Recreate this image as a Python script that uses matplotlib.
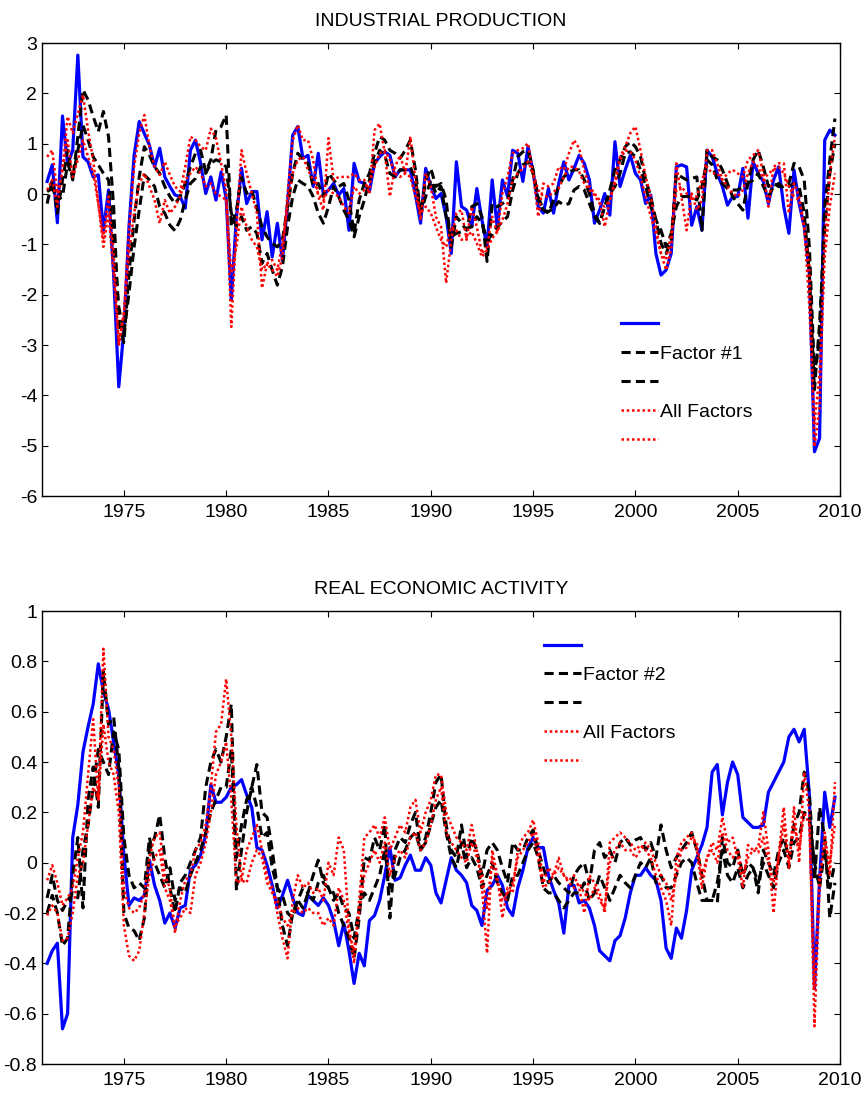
import numpy as np
import matplotlib
matplotlib.use('Agg')
import matplotlib.pyplot as plt
from matplotlib.ticker import FormatStrFormatter

plt.rcParams['font.family'] = ['Liberation Sans', 'DejaVu Sans']

# quarterly observations, 1971Q2 .. 2009Q4
dates = 1971.25 + 0.25 * np.arange(155)

# ---- INDUSTRIAL PRODUCTION ----
ip_actual = [0.25, 0.58, -0.57, 1.55, 0.58, 0.87, 2.76, 0.74, 0.64, 0.34, 0.38, -0.72, 0.08, -1.6, -3.83, -2.7, -0.65, 0.77, 1.44, 1.2,
             0.97, 0.54, 0.91, 0.34, 0.15, -0.02, -0.05, -0.28, 0.87, 1.07, 0.61, 0.01, 0.34, -0.12, 0.44, -0.09, -2.1, -0.45, 0.51, -0.19,
             0.05, 0.05, -0.91, -0.35, -1.25, -0.58, -1.31, -0.19, 1.17, 1.34, 0.71, 0.77, 0.15, 0.81, -0.02, 0.08, 0.21, -0.02, 0.11, -0.72,
             0.61, 0.25, 0.21, 0.05, 0.61, 0.74, 0.84, 0.77, 0.34, 0.48, 0.48, 0.48, -0.02, -0.58, 0.51, 0.15,
             -0.09, 0.01, -0.45, -1.18, 0.64, -0.25, -0.32, -0.65, 0.11, -0.52, -1.05, 0.28, -0.68, 0.28, -0.05, 0.87, 0.81, 0.25, 0.94, 0.44,
             -0.25, -0.38, 0.11, -0.38, 0.21, 0.64, 0.28, 0.51, 0.77, 0.61, 0.28, -0.58, -0.32, 0.01, -0.42, 1.04, 0.15, 0.48, 0.77, 0.41,
             0.28, -0.19, -0.02, -1.18, -1.61, -1.51, -1.18, 0.54, 0.58, 0.54, -0.62, -0.25, -0.72, 0.87, 0.74, 0.41, 0.15, -0.22, -0.05, -0.05,
             0.51, -0.48, 0.64, 0.41, 0.25, -0.19, 0.28, 0.54, -0.25, -0.78, 0.48, -0.19, -0.65, -1.58, -5.12, -4.85, 1.07, 1.27, 1.17]
ip_factor_a = [-0.19, 0.28, -0.38, 0.28, 0.87, 0.28, 1.14, 2.07, 1.87, 1.54, 1.24, 1.64, 1.14, -0.25, -2.57, -2.95, -1.58, -0.52, 0.34, 0.94,
               0.77, 0.54, 0.41, 0.15, -0.05, -0.19, -0.05, 0.21, 0.54, 0.81, 0.87, 0.44, 0.68, 1.27, 1.34, 1.57, -0.65, -0.32, 0.34, 0.01,
               0.08, -0.28, -0.65, -0.85, -0.98, -1.05, -0.91, -0.25, 0.41, 0.81, 0.68, 0.61, 0.15, 0.21, -0.05, 0.41, 0.28, 0.15, 0.21, -0.12,
               -0.78, -0.12, 0.21, 0.41, 0.81, 1.14, 1.07, 0.87, 0.81, 0.71, 0.87, 1.07, 0.48, -0.38, 0.28, 0.51, 0.15,
               0.21, -0.12, -1.05, -0.45, -0.58, -0.72, -0.25, -0.19, -0.45, -1.34, -0.19, -0.25, -0.19, -0.12, 0.28, 0.74, 0.84, 0.87, 0.48, -0.12,
               -0.32, -0.38, -0.12, 0.15, 0.34, 0.44, 0.48, 0.48, 0.28, 0.01, -0.38, -0.58, -0.25, 0.08, 0.48, 0.68, 0.94, 1.04, 0.94, 0.74,
               0.28, -0.05, -0.52, -0.98, -1.18, -0.91, 0.41, 0.34, 0.28, 0.31, 0.34, -0.72, 0.87, 0.74, 0.68, 0.48, 0.21, -0.05, -0.19, -0.32,
               0.21, 0.68, 0.87, 0.54, 0.15, 0.21, 0.15, 0.15, 0.21, 0.61, 0.54, 0.28, -1.05, -3.56, -2.90, -0.25, 0.68, 1.50]
ip_factor_b = [0.05, 0.11, -0.12, -0.05, 0.61, 0.31, 0.87, 1.37, 1.07, 0.74, 0.58, 0.41, 0.28, -0.91, -2.24, -2.77, -1.97, -1.05, -0.32, 0.38,
               0.28, 0.15, -0.25, -0.38, -0.62, -0.73, -0.52, -0.12, 0.21, 0.31, 0.54, 0.41, 0.61, 0.68, 0.64, 0.54, -0.38, -0.65, -0.45, -0.72,
               -0.65, -0.78, -1.38, -1.18, -1.51, -1.81, -1.44, -0.65, -0.05, 0.28, 0.21, 0.15, -0.05, -0.38, -0.58, -0.25, 0.15, -0.05, -0.32, -0.52,
               -0.85, -0.45, -0.12, 0.28, 0.61, 0.87, 0.77, 0.41, 0.34, 0.48, 0.48, 0.54, 0.28, -0.38, -0.05, 0.28, 0.01,
               0.15, -0.45, -0.85, -0.78, -0.75, -0.68, -0.65, -0.45, -0.58, -0.91, -0.81, -0.65, -0.55, -0.45, 0.08, 0.41, 0.58, 0.64, 0.41, -0.05,
               -0.32, -0.35, -0.28, -0.15, -0.22, -0.19, 0.08, 0.15, 0.08, -0.19, -0.45, -0.58, -0.25, 0.01, 0.15, 0.41, 0.81, 0.84, 0.74, 0.48,
               0.15, -0.25, -0.52, -0.72, -1.05, -0.78, -0.25, -0.05, -0.05, -0.05, -0.12, 0.15, 0.68, 0.58, 0.28, 0.21, 0.11, 0.08, 0.08, 0.15,
               0.21, 0.28, 0.41, 0.15, -0.05, 0.15, 0.21, 0.11, 0.15, 0.21, 0.15, -0.38, -1.58, -3.89, -2.57, -0.65, 0.41, 1.00]
ip_all_a = [0.74, 0.87, 0.01, 0.48, 1.54, 1.21, 1.60, 1.97, 1.27, 0.68, -0.19, -0.88, -0.05, -1.18, -3.03, -2.37, -0.72, 0.54, 1.21, 1.57,
            0.94, 0.54, 0.38, 0.64, 0.38, 0.15, 0.05, 0.54, 1.14, 1.07, 0.94, 0.87, 1.30, 1.11, 0.61, 0.08, -2.64, -0.65, 0.87, 0.41,
            0.01, -0.38, -1.87, -1.38, -1.51, -1.64, -1.25, 0.01, 1.07, 1.37, 1.07, 1.07, 0.68, -0.05, -0.32, 1.11, 0.28, 0.34, 0.34, 0.34,
            0.41, 0.28, 0.28, 0.01, 1.27, 1.40, 0.81, -0.05, 0.54, 0.77, 0.41, 1.14, 0.28, -0.52, 0.41, 0.15, -0.45,
            -0.65, -1.77, -0.91, -0.38, -0.32, -0.91, -0.25, -0.65, -1.18, -1.05, -0.45, -0.78, 0.01, 0.34, 0.81, 0.87, 0.91, 1.01, 0.41, -0.45,
            0.21, 0.15, 0.21, 0.54, 0.48, 0.81, 1.07, 0.91, 0.48, 0.15, 0.01, -0.12, -0.65, -0.12, 0.28, 0.74, 0.94, 1.21, 1.34, 0.87,
            0.34, -0.05, -0.65, -1.18, -1.51, -1.11, 0.61, -0.05, -0.72, 0.01, -0.32, -0.12, 0.87, 0.87, 0.61, 0.28, 0.41, 0.48, 0.41, 0.34,
            0.68, 0.77, 0.87, 0.41, -0.25, 0.54, 0.61, 0.61, -0.38, 0.21, -0.05, -0.65, -1.44, -5.02, -4.23, -0.91, 0.41, 1.14]
ip_all_b = [0.08, 0.28, -0.25, 0.54, 1.07, 0.34, 0.68, 1.07, 0.74, 0.41, -0.19, -1.05, -0.38, -1.58, -2.97, -2.37, -1.18, -0.38, 0.21, 0.41,
            0.15, -0.12, -0.58, -0.12, -0.38, -0.25, -0.05, 0.28, 0.41, 0.54, 0.41, 0.15, 0.21, 0.01, -0.05, -0.12, -1.58, -1.05, -0.25, -0.65,
            -0.91, -1.05, -1.51, -1.38, -1.31, -1.51, -0.98, -0.25, 0.41, 0.68, 0.74, 0.48, 0.28, 0.01, -0.12, 0.08, 0.01, -0.05, -0.25, -0.38,
            0.15, 0.01, 0.08, 0.21, 0.54, 0.81, 0.87, 0.68, 0.41, 0.34, 0.41, 0.34, -0.05, -0.38, -0.25, -0.38, -0.65,
            -0.91, -1.05, -0.65, -0.72, -0.91, -0.85, -0.75, -0.98, -1.25, -1.11, -0.88, -0.75, -0.52, -0.19, 0.28, 0.41, 0.51, 0.64, 0.41, 0.08,
            -0.05, -0.05, 0.05, 0.11, 0.34, 0.54, 0.54, 0.44, 0.21, 0.08, -0.02, -0.19, -0.25, -0.12, 0.21, 0.68, 0.87, 0.84, 0.68, 0.34,
            -0.05, -0.45, -0.78, -1.18, -1.31, -0.78, 0.08, 0.15, 0.01, -0.05, -0.05, 0.28, 0.54, 0.41, 0.41, 0.28, 0.15, 0.01, -0.05, 0.08,
            0.41, 0.64, 0.54, 0.28, 0.41, 0.48, 0.54, 0.41, 0.15, -0.05, -0.12, -0.65, -2.24, -4.56, -3.56, -1.25, -0.25, 0.41]

# ---- REAL ECONOMIC ACTIVITY ----
rea_actual = [-0.40, -0.35, -0.32, -0.66, -0.60, 0.10, 0.23, 0.44, 0.54, 0.63, 0.79, 0.68, 0.61, 0.48, 0.35, 0.03, -0.17, -0.14, -0.15, -0.13,
              0.01, -0.09, -0.15, -0.24, -0.20, -0.26, -0.18, -0.17, -0.03, -0.01, 0.03, 0.11, 0.31, 0.24, 0.24, 0.26, 0.30, 0.31, 0.33, 0.27,
              0.22, 0.06, 0.05, -0.01, -0.09, -0.18, -0.13, -0.07, -0.14, -0.20, -0.21, -0.13, -0.15, -0.17, -0.14, -0.17, -0.23, -0.33, -0.24, -0.35,
              -0.48, -0.36, -0.41, -0.23, -0.21, -0.15, -0.05, 0.06, -0.07, -0.06, -0.01, 0.03, -0.03, -0.03, 0.02, -0.01, -0.12,
              -0.16, -0.07, 0.02, -0.03, -0.05, -0.08, -0.17, -0.19, -0.25, -0.11, -0.09, -0.05, -0.09, -0.18, -0.21, -0.10, -0.03, 0.06, 0.10, 0.06,
              0.06, -0.05, -0.11, -0.16, -0.28, -0.09, -0.09, -0.16, -0.15, -0.18, -0.25, -0.35, -0.37, -0.39, -0.31, -0.29, -0.22, -0.12, -0.05, -0.05,
              -0.02, -0.05, -0.07, -0.15, -0.34, -0.38, -0.26, -0.30, -0.19, -0.03, 0.02, 0.07, 0.14, 0.36, 0.39, 0.19, 0.32, 0.40, 0.35, 0.18,
              0.16, 0.14, 0.14, 0.15, 0.28, 0.32, 0.36, 0.40, 0.50, 0.53, 0.48, 0.53, 0.27, -0.50, -0.07, 0.28, 0.14, 0.26]
rea_factor_a = [-0.20, -0.13, -0.20, -0.33, -0.30, -0.05, 0.10, -0.18, 0.25, 0.38, 0.22, 0.76, 0.55, 0.58, 0.38, -0.20, -0.26, -0.27, -0.31, -0.22,
                0.05, 0.10, 0.19, 0.02, -0.10, -0.20, -0.08, -0.05, 0.00, 0.05, 0.10, 0.30, 0.40, 0.45, 0.40, 0.50, 0.63, -0.11, 0.05, 0.20,
                0.30, 0.39, 0.20, 0.18, 0.05, -0.10, -0.25, -0.33, -0.20, -0.15, -0.10, -0.12, -0.05, 0.01, -0.08, -0.10, -0.12, -0.20, -0.25, -0.30,
                -0.38, -0.22, 0.02, 0.01, 0.10, 0.05, 0.15, -0.22, 0.05, 0.10, 0.08, 0.15, 0.20, 0.05, 0.10, 0.20, 0.32,
                0.35, 0.15, 0.05, 0.02, 0.15, 0.02, 0.10, 0.05, -0.05, 0.05, 0.08, 0.05, -0.02, -0.08, 0.08, 0.05, 0.05, 0.10, 0.13, 0.05,
                -0.02, -0.08, -0.05, -0.08, -0.10, -0.12, -0.05, -0.02, 0.00, -0.08, 0.05, 0.08, 0.02, 0.05, 0.00, 0.08, 0.10, 0.07, 0.09, 0.10,
                0.05, 0.08, 0.02, 0.15, 0.05, -0.02, 0.02, 0.05, 0.08, 0.12, 0.05, -0.05, -0.15, -0.15, -0.16, 0.10, 0.00, -0.02, 0.05, -0.05,
                0.00, -0.02, -0.12, 0.05, 0.00, -0.05, 0.05, 0.10, 0.02, 0.15, 0.20, 0.36, 0.28, -0.07, 0.22, 0.10, -0.22, -0.08]
rea_factor_b = [-0.14, -0.05, -0.15, -0.19, -0.15, -0.12, -0.14, 0.05, 0.15, 0.30, 0.45, 0.40, 0.35, 0.52, 0.45, 0.10, -0.05, -0.10, -0.08, -0.10,
                0.10, 0.00, -0.05, -0.10, -0.02, -0.15, -0.10, -0.12, -0.05, 0.00, 0.05, 0.12, 0.20, 0.25, 0.30, 0.30, 0.45, 0.02, 0.15, 0.25,
                0.30, 0.22, 0.10, 0.12, -0.02, -0.10, -0.13, -0.20, -0.22, -0.15, -0.18, -0.12, -0.15, -0.08, -0.05, -0.10, -0.15, -0.12, -0.18, -0.20,
                -0.30, -0.18, -0.12, -0.15, -0.10, -0.05, 0.05, -0.10, -0.05, 0.02, 0.05, 0.10, 0.12, 0.05, 0.08, 0.15, 0.22,
                0.25, 0.12, 0.02, -0.02, 0.08, -0.02, 0.02, -0.02, -0.10, -0.05, 0.00, -0.08, -0.12, -0.15, -0.05, -0.05, 0.00, 0.05, 0.08, 0.02,
                -0.10, -0.12, -0.12, -0.15, -0.18, -0.15, -0.12, -0.12, -0.08, -0.15, -0.12, -0.05, -0.10, -0.15, -0.10, -0.05, -0.08, -0.10, -0.05, 0.00,
                -0.02, 0.02, -0.08, -0.05, -0.10, -0.10, -0.05, 0.00, 0.02, 0.00, -0.08, -0.15, -0.15, -0.15, -0.08, 0.05, -0.05, -0.08, -0.02, -0.10,
                -0.05, -0.02, -0.08, 0.00, -0.05, -0.10, 0.00, 0.05, -0.02, 0.08, 0.10, 0.20, 0.18, 0.00, -0.10, 0.05, -0.10, 0.00]
rea_all_a = [-0.07, -0.01, -0.08, -0.17, -0.14, -0.10, 0.02, 0.12, 0.35, 0.57, 0.25, 0.85, 0.50, 0.45, 0.30, -0.10, -0.18, -0.20, -0.18, -0.12,
             0.02, 0.10, 0.12, -0.05, -0.10, -0.28, -0.15, -0.07, -0.05, 0.05, 0.08, 0.15, 0.30, 0.52, 0.55, 0.73, 0.50, 0.15, -0.07, 0.05,
             0.10, 0.15, 0.05, -0.05, -0.10, -0.20, -0.30, -0.38, -0.15, -0.05, -0.10, -0.08, -0.12, -0.10, -0.15, 0.00, -0.05, 0.10, 0.05, -0.25,
             -0.40, -0.15, 0.10, 0.12, 0.15, 0.10, 0.18, 0.05, 0.10, 0.15, 0.12, 0.22, 0.25, 0.12, 0.20, 0.25, 0.35,
             0.35, 0.20, 0.15, 0.10, 0.08, 0.05, 0.15, 0.05, -0.10, -0.36, 0.05, -0.05, -0.22, -0.10, -0.12, 0.05, 0.10, 0.12, 0.17, 0.08,
             -0.08, -0.02, -0.05, 0.02, -0.05, -0.07, -0.05, -0.10, -0.20, -0.05, -0.08, -0.12, -0.20, 0.08, 0.10, 0.12, 0.10, 0.08, 0.05, 0.07,
             0.05, 0.02, -0.05, -0.10, -0.15, -0.25, 0.02, 0.08, 0.10, 0.12, 0.05, -0.10, 0.02, 0.08, 0.05, 0.18, 0.08, 0.10, 0.02, -0.10,
             0.07, 0.05, 0.06, 0.20, 0.05, -0.20, 0.03, 0.22, -0.02, 0.22, 0.00, 0.36, 0.20, -0.65, -0.10, 0.12, -0.05, 0.32]
rea_all_b = [-0.21, -0.17, -0.20, -0.31, -0.30, -0.20, -0.05, 0.00, 0.15, 0.30, 0.25, 0.55, 0.40, 0.35, 0.20, -0.25, -0.37, -0.39, -0.35, -0.20,
             -0.05, 0.02, 0.05, -0.10, -0.15, -0.25, -0.22, -0.18, -0.20, -0.05, 0.00, 0.08, 0.20, 0.35, 0.40, 0.48, 0.25, -0.08, -0.07, -0.08,
             0.00, 0.05, 0.02, -0.08, -0.12, -0.15, -0.22, -0.25, -0.20, -0.18, -0.20, -0.18, -0.20, -0.20, -0.25, -0.22, -0.25, -0.10, -0.15, -0.28,
             -0.35, -0.20, -0.05, 0.00, 0.05, 0.00, 0.08, -0.05, 0.02, 0.05, 0.02, 0.10, 0.12, 0.05, 0.08, 0.15, 0.25,
             0.30, 0.12, 0.08, 0.05, 0.02, 0.00, 0.08, 0.02, -0.05, -0.18, 0.02, -0.08, -0.15, -0.12, -0.08, 0.02, 0.05, 0.08, 0.12, 0.02,
             -0.10, -0.08, -0.05, -0.02, -0.05, -0.08, -0.10, -0.08, -0.12, -0.15, -0.10, -0.15, -0.18, 0.00, 0.05, 0.08, 0.05, 0.05, 0.02, 0.05,
             0.08, 0.05, 0.00, -0.05, -0.08, -0.15, -0.05, 0.05, 0.06, 0.10, 0.08, -0.05, 0.02, 0.05, 0.00, 0.12, 0.05, 0.02, 0.05, -0.05,
             0.02, 0.05, 0.04, 0.10, 0.00, -0.08, 0.02, 0.15, 0.00, 0.15, 0.05, 0.20, 0.15, -0.50, -0.05, 0.08, 0.00, 0.15]

panels = [
    ('INDUSTRIAL PRODUCTION', [ip_actual, ip_factor_a, ip_factor_b, ip_all_a, ip_all_b], 'Factor #1',
     (-6, 3), [-6, -5, -4, -3, -2, -1, 0, 1, 2, 3], (0.7256, 0.396)),
    ('REAL ECONOMIC ACTIVITY', [rea_actual, rea_factor_a, rea_factor_b, rea_all_a, rea_all_b], 'Factor #2',
     (-0.8, 1), [-0.8, -0.6, -0.4, -0.2, 0, 0.2, 0.4, 0.6, 0.8, 1], (0.629, 0.941)),
]

fig = plt.figure(figsize=(8.63, 10.95), dpi=100)
boxes = [[0.0487, 0.547, 0.9247, 0.4137], [0.0487, 0.0283, 0.9247, 0.4137]]

for box, (title, series, flabel, ylim, yticks, legxy) in zip(boxes, panels):
    for s in series:
        assert len(s) == len(dates), (title, len(s))
    ax = fig.add_axes(box)
    actual, fa, fb, aa, ab = series
    h1, = ax.plot(dates, actual, color='blue', lw=2.3)
    h2, = ax.plot(dates, fa, color='black', lw=2.2, ls=(0, (3, 1.7)))
    h3, = ax.plot(dates, fb, color='black', lw=2.2, ls=(0, (3, 1.7)))
    h4, = ax.plot(dates, aa, color='red', lw=1.8, ls=(0, (1, 1.1)))
    h5, = ax.plot(dates, ab, color='red', lw=1.8, ls=(0, (1, 1.1)))

    ax.set_xlim(1971, 2010)
    ax.set_xticks(np.arange(1975, 2011, 5))
    ax.set_ylim(*ylim)
    ax.set_yticks(yticks)
    ax.yaxis.set_major_formatter(FormatStrFormatter('%g'))
    ax.tick_params(direction='in', top=True, right=True, length=4, width=0.8, labelsize=14)
    ax.tick_params(axis='x', pad=6)
    ax.tick_params(axis='y', pad=3.5)
    for sp in ax.spines.values():
        sp.set_linewidth(1.0)
    ax.set_title(title, fontsize=14, pad=12)

    ax.legend([h1, h2, h3, h4, h5], ['', flabel, '', 'All Factors', ''],
              loc='upper left', bbox_to_anchor=legxy, frameon=False, fontsize=14,
              borderaxespad=0, borderpad=0, handlelength=1.9, handletextpad=0.1,
              labelspacing=0.58)

fig.savefig('out.png', dpi=100)
